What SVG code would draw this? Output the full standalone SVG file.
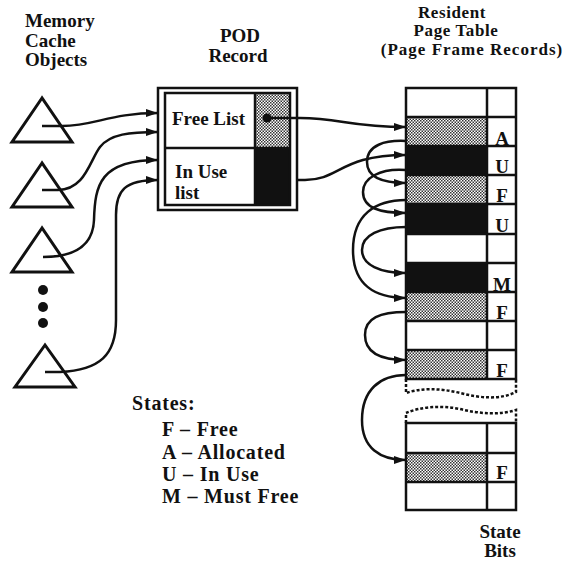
<svg xmlns="http://www.w3.org/2000/svg" width="569" height="562" viewBox="0 0 569 562">
<defs>
<style>
text{font-family:"Liberation Serif","Times New Roman",serif;font-size:19px;font-weight:bold;fill:#111}
.hdr{font-size:17px}
.leg{font-size:20px;letter-spacing:0.8px}
.lbl{font-size:19px;text-anchor:middle}
.tri{fill:none;stroke:#111;stroke-width:3;stroke-linejoin:miter}
.box{fill:none;stroke:#111;stroke-width:2.5}
.ln{fill:none;stroke:#111;stroke-width:2.5}
.con{fill:none;stroke:#111;stroke-width:2.5;marker-end:url(#ah)}
.dash{fill:none;stroke:#111;stroke-width:2.5;stroke-dasharray:3 2}
.stip{fill:url(#stipple)}
.blk{fill:#111}
</style>
<pattern id="stipple" width="3" height="3" patternUnits="userSpaceOnUse">
<rect width="3" height="3" fill="#fff"/>
<rect width="1.5" height="1.5" fill="#333"/>
<rect x="1.5" y="1.5" width="1.5" height="1.5" fill="#333"/>
</pattern>
<marker id="ah" markerUnits="userSpaceOnUse" markerWidth="12" markerHeight="8" viewBox="0 0 12 8" refX="12" refY="4" orient="auto">
<path d="M0,0 L12,4 L0,8 z" fill="#111"/>
</marker>
</defs>
<rect width="569" height="562" fill="#fff"/>

<g id="titles">
<text x="25" y="27">Memory</text>
<text x="25" y="47">Cache</text>
<text x="25" y="66">Objects</text>
<text x="240" y="42" text-anchor="middle">POD</text>
<text x="238" y="62" text-anchor="middle">Record</text>
<text class="hdr" x="452" y="18" text-anchor="middle" letter-spacing="0.6">Resident</text>
<text class="hdr" x="456" y="36" text-anchor="middle" letter-spacing="0.6">Page Table</text>
<text class="hdr" x="472" y="55" text-anchor="middle" letter-spacing="1">(Page Frame Records)</text>
</g>

<g id="cache-objects">
<polygon class="tri" points="42,98 12,142 72,142"/>
<polygon class="tri" points="42,163 12,207 72,207"/>
<polygon class="tri" points="42,228 12,272 72,272"/>
<circle cx="43" cy="290" r="5" fill="#111"/>
<circle cx="43" cy="307" r="5" fill="#111"/>
<circle cx="43" cy="323" r="5" fill="#111"/>
<polygon class="tri" points="45,345 15,387 75,387"/>
</g>

<g id="pod-record">
<rect x="255" y="93" width="35" height="55" class="stip"/>
<rect x="255" y="148" width="35" height="57" class="blk"/>
<rect class="box" x="158" y="88" width="139" height="122"/>
<rect class="box" x="165" y="93" width="125" height="112"/>
<line class="ln" x1="165" y1="148" x2="290" y2="148"/>
<line class="ln" x1="255" y1="93" x2="255" y2="205"/>
<text x="172" y="125">Free List</text>
<text x="175" y="178">In Use</text>
<text x="175" y="199">list</text>
<circle cx="267" cy="118" r="4.5" fill="#111"/>
</g>

<g id="page-table">
<rect x="406" y="117" width="81" height="29" class="stip"/>
<rect x="406" y="146" width="81" height="29" class="blk"/>
<rect x="406" y="175" width="81" height="29" class="stip"/>
<rect x="406" y="204" width="81" height="30" class="blk"/>
<rect x="406" y="263" width="81" height="29" class="blk"/>
<rect x="406" y="292" width="81" height="29" class="stip"/>
<rect x="406" y="350" width="81" height="29" class="stip"/>
<rect class="box" x="406" y="88" width="110" height="291"/>
<line class="ln" x1="487" y1="88" x2="487" y2="379"/>
<g class="ln">
<line x1="406" y1="117" x2="516" y2="117"/>
<line x1="406" y1="146" x2="516" y2="146"/>
<line x1="406" y1="175" x2="516" y2="175"/>
<line x1="406" y1="204" x2="516" y2="204"/>
<line x1="406" y1="234" x2="516" y2="234"/>
<line x1="406" y1="263" x2="516" y2="263"/>
<line x1="406" y1="292" x2="516" y2="292"/>
<line x1="406" y1="321" x2="516" y2="321"/>
<line x1="406" y1="350" x2="516" y2="350"/>
</g>
<text class="lbl" x="502" y="145">A</text>
<text class="lbl" x="502" y="173">U</text>
<text class="lbl" x="502" y="202">F</text>
<text class="lbl" x="502" y="232">U</text>
<text class="lbl" x="502" y="291">M</text>
<text class="lbl" x="502" y="319">F</text>
<text class="lbl" x="502" y="377">F</text>
<path class="dash" d="M406,379 L406,393 C420,388 440,388 460,393 C480,398 500,400 516,392 L516,379"/>
<path class="dash" d="M406,423 L406,413 C420,407 440,405 460,409 C480,414 500,415 516,410 L516,423"/>
<rect x="406" y="453" width="81" height="29" class="stip"/>
<rect class="box" x="406" y="423" width="110" height="87"/>
<line class="ln" x1="487" y1="423" x2="487" y2="510"/>
<line class="ln" x1="406" y1="453" x2="516" y2="453"/>
<line class="ln" x1="406" y1="482" x2="516" y2="482"/>
<text class="lbl" x="502" y="479">F</text>
<text x="500" y="538" text-anchor="middle">State</text>
<text x="500" y="557" text-anchor="middle">Bits</text>
</g>

<g id="legend">
<text class="leg" x="132" y="410">States:</text>
<text class="leg" x="162" y="436">F – Free</text>
<text class="leg" x="162" y="459">A – Allocated</text>
<text class="leg" x="162" y="481">U – In Use</text>
<text class="leg" x="162" y="503">M – Must Free</text>
</g>

<g id="connectors">
<path class="con" d="M42,126 L62,126 C95,126 110,113 158,113"/>
<path class="con" d="M42,190 L58,190 C85,190 90,160 100,147 C110,134 130,132 158,132"/>
<path class="con" d="M43,257 C75,257 93,245 94,220 C95,185 100,160 158,160"/>
<path class="con" d="M45,372 L60,372 C100,370 116,355 116,320 L116,215 C116,190 125,180 158,180"/>
<path class="con" d="M267,118 L300,118 C340,118 350,127 406,127"/>
<path class="con" d="M297,180 L305,180 C340,180 340,155 406,155"/>
<path class="con" d="M406,141 C385,140 367,145 367,162 C367,178 385,183 406,183"/>
<path class="con" d="M406,170 C380,168 363,178 363,192 C363,208 380,213 406,213"/>
<path class="con" d="M406,200 C375,200 353,215 353,250 C353,285 375,298 406,298"/>
<path class="con" d="M406,227 C380,227 362,235 362,250 C362,265 380,273 406,273"/>
<path class="con" d="M406,312 C380,312 365,318 365,335 C365,352 380,360 406,360"/>
<path class="con" d="M406,375 C380,375 362,390 362,420 C362,448 380,460 406,460"/>
</g>
</svg>
